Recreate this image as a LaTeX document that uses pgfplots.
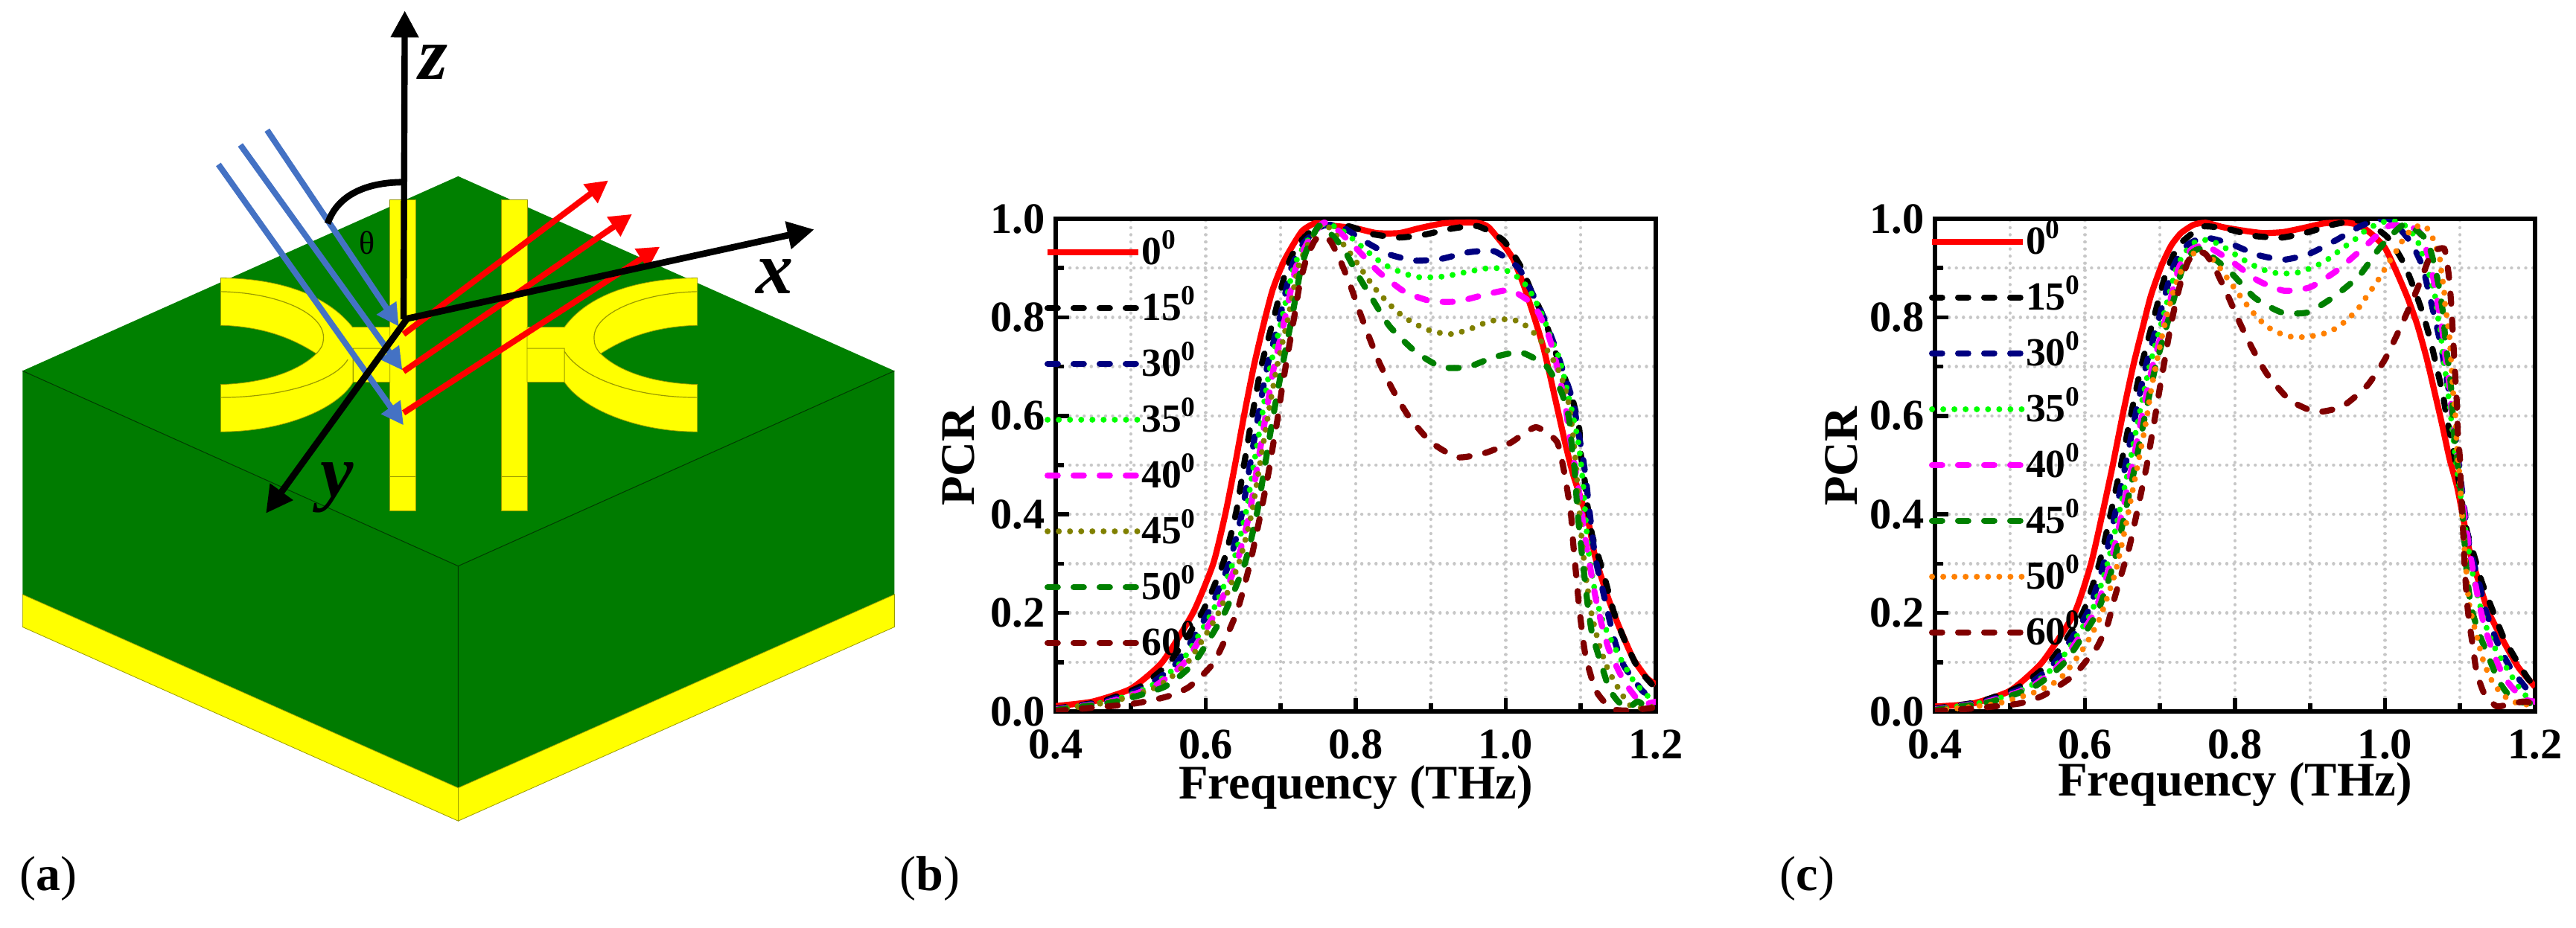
\documentclass[border=0pt]{standalone}
\usepackage{fontspec}
\setmainfont{Liberation Serif}
\usepackage{pgfplots}
\pgfplotsset{compat=1.18}
\usetikzlibrary{arrows.meta}
\definecolor{cnavy}{HTML}{000080}
\definecolor{clime}{HTML}{00FF00}
\definecolor{cmag}{HTML}{FF00FF}
\definecolor{colive}{HTML}{808000}
\definecolor{cgreen}{HTML}{008000}
\definecolor{cmaroon}{HTML}{800000}
\definecolor{corange}{HTML}{FF8000}
\definecolor{cblue}{HTML}{4472C4}
\definecolor{cred}{HTML}{FF0000}
\definecolor{sgreen}{HTML}{008000}
\definecolor{syellow}{HTML}{FFFF00}
\definecolor{sedge}{HTML}{9A9A00}
\tikzset{
  xl/.style={font=\fontsize{16.2}{17}\selectfont\bfseries,anchor=base,inner sep=0pt},
  yl/.style={font=\fontsize{16.2}{17}\selectfont\bfseries,rotate=90,anchor=center,inner sep=0pt},
}
\pgfplotsset{
  dsh/.style={line width=2.05pt,line cap=round,dash pattern=on 3.4pt off 5.35pt},
  dot/.style={line width=2pt,line cap=round,dash pattern=on 0.01pt off 3.75pt},
  pcr/.style={
    scale only axis,width=201.5pt,height=165.5pt,
    xmin=0.4,xmax=1.2,ymin=0,ymax=1,
    xtick={0.4,0.6,...,1.2},ytick={0,0.2,...,1},
    minor tick num=1,tick pos=left,
    major tick length=4.5pt,minor tick length=2.7pt,
    grid=both,
    major grid style={line width=1.1pt,line cap=round,color=black!22,dash pattern=on 0.01pt off 2.38pt},
    minor grid style={line width=1.1pt,line cap=round,color=black!22,dash pattern=on 0.01pt off 2.38pt},
    axis line style={line width=1.4pt},
    every tick/.style={line width=1.4pt,black},
    /pgf/number format/.cd,assume math mode=true,fixed,fixed zerofill,precision=1,/pgfplots/.cd,
    tick label style={font=\fontsize{14.6}{15}\selectfont\bfseries,inner sep=0pt},
    xticklabel style={yshift=-5.9pt},
    yticklabel style={xshift=-3.5pt},
    legend cell align=left,
    legend image code/.code={\draw[##1] (0pt,1.45pt) -- (30.5pt,1.45pt);},
    legend style={draw=none,fill=none,inner sep=0pt,outer sep=0pt,
      font=\fontsize{13.4}{14}\selectfont\bfseries,
      nodes={inner sep=0pt,outer sep=0pt,text height=12pt,text depth=6.75pt},
      row sep=0pt,/tikz/column 2/.style={column sep=3.2pt}},
    every axis plot/.append style={smooth,tension=0.35},
    xlabel={Frequency (THz)},ylabel={PCR},
  },
}
\begin{document}
\begin{tikzpicture}
\useasboundingbox (0,0) rectangle (865pt,311.5pt);

% panel a, coordinates taken from the figure
\begin{scope}[shift={(0pt,311.5pt)},x=0.1993pt,y=-0.1987pt]
\fill[sgreen] (772,298) -- (1507,627) -- (772,957) -- (38,627) -- cycle;
\fill[sgreen!96!black] (38,627) -- (772,957) -- (772,1332) -- (38,1005) -- cycle;
\fill[sgreen!96!black] (772,957) -- (1507,627) -- (1507,1005) -- (772,1332) -- cycle;
\draw[black!55!sgreen,line width=0.25pt] (38,627) -- (772,957) -- (1507,627) (772,957) -- (772,1332);
\fill[syellow,draw=sedge,line width=0.2pt] (38,1005) -- (772,1332) -- (772,1388) -- (38,1060) -- cycle;
\fill[syellow,draw=sedge,line width=0.2pt] (772,1332) -- (1507,1005) -- (1507,1060) -- (772,1388) -- cycle;
% strips
\fill[syellow,draw=sedge,line width=0.2pt] (657,338) rectangle (701,863);
\fill[syellow,draw=sedge,line width=0.2pt] (845,338) rectangle (888,863);
\draw[sedge,line width=0.3pt] (657,806) -- (701,806) (845,806) -- (888,806);
% left C and stub
\fill[syellow,draw=sedge,line width=0.2pt] (372,470) .. controls (440,470) and (540,485) .. (594,553) -- (657,553) -- (657,646) -- (595,646)
  .. controls (570,690) and (480,730) .. (372,730) -- (372,650) .. controls (440,648) and (500,630) .. (533,598)
  .. controls (490,570) and (440,552) .. (372,550) -- cycle;
\draw[sedge,line width=0.3pt] (372,493) .. controls (470,495) and (545,530) .. (545,570) .. controls (545,585) and (540,590) .. (533,598)
  (372,672) .. controls (460,672) and (560,650) .. (586,608) (594,589) -- (657,589) (595,589) -- (595,646);
% right C and stub
\fill[syellow,draw=sedge,line width=0.2pt] (1175,470) .. controls (1105,470) and (1000,485) .. (951,553) -- (888,553) -- (888,646) -- (951,646)
  .. controls (980,690) and (1070,730) .. (1175,730) -- (1175,650) .. controls (1105,648) and (1045,630) .. (1012,598)
  .. controls (1055,570) and (1105,552) .. (1175,550) -- cycle;
\draw[sedge,line width=0.3pt] (1175,493) .. controls (1080,495) and (1001,530) .. (1001,570) .. controls (1001,585) and (1005,590) .. (1012,598)
  (951,594) .. controls (980,640) and (1070,672) .. (1175,672) (888,589) -- (951,589) -- (951,646);
% beams
\draw[cblue,line width=2pt,-{Stealth[length=7.5pt,width=7.5pt,inset=0pt]}] (450,220) -- (672,552);
\draw[cblue,line width=2pt,-{Stealth[length=7.5pt,width=7.5pt,inset=0pt]}] (405,245) -- (678,626);
\draw[cblue,line width=2pt,-{Stealth[length=7.5pt,width=7.5pt,inset=0pt]}] (368,278) -- (680,719);
\draw[cred,line width=2pt,-{Stealth[length=7.5pt,width=7.5pt,inset=0pt]}] (680,565) -- (1025,305);
\draw[cred,line width=2pt,-{Stealth[length=7.5pt,width=7.5pt,inset=0pt]}] (680,628) -- (1065,362);
\draw[cred,line width=2pt,-{Stealth[length=7.5pt,width=7.5pt,inset=0pt]}] (680,698) -- (1112,417);
% axes of the sketch
\draw[black,line width=2.1pt,-{Stealth[length=9pt,width=9pt,inset=0pt]}] (680,540) -- (682,18);
\draw[black,line width=2.2pt,-{Stealth[length=9pt,width=9pt,inset=0pt]}] (680,540) -- (1372,388);
\draw[black,line width=2.2pt,-{Stealth[length=9pt,width=9pt,inset=0pt]}] (685,540) -- (448,868);
\draw[black,line width=2.2pt] (552,378) .. controls (570,325) and (625,308) .. (680,308);
\node[font=\fontsize{11}{12}\selectfont] at (618,410) {θ};
\node[font=\fontsize{25}{26}\selectfont\bfseries\itshape] at (730,105) {z};
\node[font=\fontsize{25}{26}\selectfont\bfseries\itshape] at (1305,467) {x};
\node[font=\fontsize{25}{26}\selectfont\bfseries\itshape] at (568,825) {y};
\end{scope}

\node[font=\fontsize{16.5}{18}\selectfont,anchor=base west,inner sep=0pt] at (6.5pt,12.5pt) {(\textbf{a})};
\node[font=\fontsize{16.5}{18}\selectfont,anchor=base west,inner sep=0pt] at (302pt,12.5pt) {(\textbf{b})};
\node[font=\fontsize{16.5}{18}\selectfont,anchor=base west,inner sep=0pt] at (597.5pt,12.5pt) {(\textbf{c})};

% panel b
\begin{axis}[pcr,at={(354.5pt,72.5pt)},anchor=south west,
  every axis x label/.style={at={(axis description cs:0.5,-0.178)},xl},
  every axis y label/.style={at={(axis description cs:-0.1625,0.518)},yl},
  legend style={at={(axis description cs:-0.0186,0.98)},anchor=north west}]
\addplot[cred,line width=2.05pt] coordinates {(0.4,0.011)(0.449,0.02)(0.5,0.046)(0.542,0.1)(0.583,0.2)(0.61,0.3)(0.626,0.4)(0.639,0.5)(0.651,0.6)(0.664,0.7)(0.677,0.785)(0.689,0.855)(0.703,0.91)(0.716,0.946)(0.729,0.976)(0.746,0.991)(0.769,0.986)(0.799,0.981)(0.828,0.971)(0.858,0.971)(0.885,0.981)(0.918,0.991)(0.961,0.992)(0.977,0.983)(1.0,0.941)(1.011,0.915)(1.024,0.865)(1.037,0.805)(1.05,0.74)(1.06,0.675)(1.07,0.607)(1.08,0.54)(1.09,0.48)(1.11,0.385)(1.119,0.315)(1.135,0.237)(1.15,0.176)(1.17,0.107)(1.188,0.068)(1.2,0.055)};
\addlegendentry{0\textsuperscript{0}}
\addplot[black,dsh] coordinates {(0.4,0.006)(0.46,0.02)(0.512,0.05)(0.552,0.1)(0.595,0.2)(0.623,0.3)(0.64,0.4)(0.651,0.5)(0.662,0.6)(0.674,0.7)(0.691,0.8)(0.708,0.9)(0.724,0.95)(0.75,0.985)(0.79,0.985)(0.822,0.969)(0.858,0.962)(0.892,0.968)(0.928,0.98)(0.963,0.985)(0.997,0.956)(1.02,0.903)(1.035,0.85)(1.052,0.795)(1.064,0.739)(1.077,0.684)(1.09,0.628)(1.098,0.573)(1.1,0.523)(1.105,0.472)(1.108,0.428)(1.115,0.359)(1.125,0.307)(1.134,0.259)(1.144,0.202)(1.157,0.15)(1.176,0.089)(1.195,0.055)(1.2,0.05)};
\addlegendentry{15\textsuperscript{0}}
\addplot[cnavy,dsh] coordinates {(0.4,0.005)(0.465,0.02)(0.52,0.05)(0.562,0.1)(0.603,0.2)(0.631,0.3)(0.648,0.4)(0.659,0.5)(0.67,0.6)(0.682,0.7)(0.699,0.8)(0.714,0.9)(0.73,0.95)(0.755,0.985)(0.779,0.986)(0.81,0.956)(0.844,0.928)(0.88,0.915)(0.915,0.919)(0.95,0.932)(0.985,0.934)(1.017,0.9)(1.035,0.85)(1.052,0.795)(1.066,0.739)(1.078,0.684)(1.09,0.628)(1.096,0.573)(1.102,0.523)(1.107,0.472)(1.11,0.428)(1.119,0.315)(1.128,0.255)(1.144,0.15)(1.157,0.094)(1.182,0.042)(1.195,0.029)(1.2,0.025)};
\addlegendentry{30\textsuperscript{0}}
\addplot[clime,dot] coordinates {(0.4,0.004)(0.47,0.02)(0.525,0.05)(0.567,0.1)(0.608,0.2)(0.636,0.3)(0.653,0.4)(0.664,0.5)(0.675,0.6)(0.686,0.7)(0.702,0.8)(0.717,0.9)(0.733,0.95)(0.758,0.99)(0.783,0.975)(0.813,0.937)(0.828,0.918)(0.843,0.903)(0.858,0.893)(0.873,0.885)(0.888,0.881)(0.918,0.883)(0.948,0.892)(0.977,0.9)(0.993,0.899)(1.008,0.89)(1.023,0.872)(1.034,0.849)(1.049,0.804)(1.06,0.759)(1.072,0.714)(1.083,0.644)(1.09,0.598)(1.096,0.553)(1.1,0.508)(1.103,0.462)(1.11,0.33)(1.12,0.235)(1.131,0.176)(1.15,0.116)(1.17,0.063)(1.188,0.033)(1.2,0.02)};
\addlegendentry{35\textsuperscript{0}}
\addplot[cmag,dsh] coordinates {(0.4,0.004)(0.472,0.02)(0.53,0.05)(0.572,0.1)(0.613,0.2)(0.641,0.3)(0.658,0.4)(0.669,0.5)(0.68,0.6)(0.691,0.7)(0.706,0.8)(0.72,0.9)(0.735,0.95)(0.755,0.99)(0.767,0.989)(0.797,0.946)(0.83,0.893)(0.865,0.852)(0.9,0.833)(0.935,0.832)(0.97,0.845)(1.006,0.855)(1.037,0.825)(1.055,0.772)(1.065,0.722)(1.073,0.669)(1.08,0.616)(1.085,0.56)(1.091,0.508)(1.097,0.452)(1.105,0.36)(1.119,0.237)(1.128,0.176)(1.138,0.124)(1.157,0.063)(1.176,0.024)(1.188,0.016)(1.2,0.02)};
\addlegendentry{40\textsuperscript{0}}
\addplot[colive,dot] coordinates {(0.4,0.003)(0.475,0.02)(0.535,0.05)(0.576,0.1)(0.617,0.2)(0.644,0.3)(0.661,0.4)(0.672,0.5)(0.683,0.6)(0.695,0.7)(0.71,0.8)(0.723,0.9)(0.737,0.95)(0.756,0.99)(0.771,0.972)(0.794,0.927)(0.815,0.881)(0.826,0.858)(0.839,0.836)(0.854,0.813)(0.869,0.796)(0.884,0.783)(0.899,0.773)(0.914,0.768)(0.929,0.766)(0.944,0.772)(0.959,0.78)(0.974,0.79)(0.989,0.795)(1.004,0.796)(1.019,0.791)(1.034,0.774)(1.047,0.752)(1.057,0.729)(1.066,0.706)(1.073,0.684)(1.078,0.661)(1.082,0.638)(1.085,0.616)(1.089,0.57)(1.093,0.51)(1.097,0.43)(1.101,0.355)(1.107,0.272)(1.115,0.194)(1.125,0.133)(1.135,0.09)(1.144,0.063)(1.163,0.016)(1.176,0.007)(1.2,0.01)};
\addlegendentry{45\textsuperscript{0}}
\addplot[cgreen,dsh] coordinates {(0.4,0.003)(0.48,0.02)(0.545,0.05)(0.585,0.1)(0.625,0.2)(0.652,0.3)(0.668,0.4)(0.679,0.5)(0.69,0.6)(0.702,0.7)(0.715,0.8)(0.727,0.9)(0.738,0.95)(0.753,0.987)(0.782,0.943)(0.802,0.888)(0.823,0.835)(0.845,0.782)(0.879,0.731)(0.914,0.699)(0.949,0.699)(0.984,0.719)(1.02,0.729)(1.054,0.701)(1.074,0.649)(1.084,0.598)(1.088,0.54)(1.092,0.487)(1.095,0.42)(1.098,0.37)(1.103,0.3)(1.109,0.22)(1.115,0.159)(1.125,0.107)(1.138,0.046)(1.15,0.02)(1.163,0.007)(1.176,0.02)(1.19,0.007)(1.2,0.01)};
\addlegendentry{50\textsuperscript{0}}
\addplot[cmaroon,dsh] coordinates {(0.4,0.001)(0.5,0.015)(0.548,0.03)(0.578,0.05)(0.611,0.1)(0.641,0.2)(0.659,0.3)(0.673,0.4)(0.684,0.487)(0.69,0.543)(0.696,0.596)(0.701,0.649)(0.707,0.704)(0.713,0.757)(0.719,0.81)(0.725,0.865)(0.734,0.918)(0.745,0.955)(0.754,0.966)(0.766,0.955)(0.778,0.92)(0.792,0.868)(0.805,0.812)(0.818,0.759)(0.832,0.706)(0.85,0.651)(0.871,0.598)(0.9,0.547)(0.935,0.516)(0.971,0.524)(1.006,0.545)(1.04,0.577)(1.068,0.548)(1.077,0.493)(1.082,0.45)(1.087,0.4)(1.09,0.34)(1.094,0.275)(1.098,0.21)(1.106,0.116)(1.119,0.046)(1.131,0.02)(1.144,0.004)(1.163,0.002)(1.2,0.008)};
\addlegendentry{60\textsuperscript{0}}
\end{axis}

% panel c
\begin{axis}[pcr,at={(649.75pt,72.5pt)},anchor=south west,
  every axis x label/.style={at={(axis description cs:0.5,-0.171)},xl},
  every axis y label/.style={at={(axis description cs:-0.156,0.518)},yl},
  legend style={at={(axis description cs:-0.01,1.0015)},anchor=north west}]
\addplot[cred,line width=2.05pt] coordinates {(0.4,0.01)(0.45,0.016)(0.5,0.042)(0.543,0.1)(0.586,0.2)(0.608,0.3)(0.623,0.4)(0.637,0.5)(0.65,0.6)(0.664,0.7)(0.677,0.78)(0.688,0.845)(0.702,0.905)(0.715,0.946)(0.728,0.971)(0.745,0.988)(0.761,0.992)(0.784,0.983)(0.811,0.976)(0.837,0.971)(0.864,0.973)(0.89,0.981)(0.92,0.991)(0.95,0.992)(0.967,0.986)(0.983,0.968)(1.0,0.941)(1.016,0.89)(1.03,0.84)(1.043,0.785)(1.056,0.714)(1.066,0.649)(1.076,0.583)(1.086,0.513)(1.096,0.457)(1.104,0.395)(1.112,0.33)(1.125,0.263)(1.138,0.202)(1.158,0.142)(1.178,0.089)(1.2,0.05)};
\addlegendentry{0\textsuperscript{0}}
\addplot[black,dsh] coordinates {(0.4,0.006)(0.46,0.02)(0.512,0.05)(0.553,0.1)(0.597,0.2)(0.619,0.3)(0.634,0.4)(0.648,0.5)(0.661,0.6)(0.675,0.7)(0.692,0.8)(0.708,0.89)(0.725,0.946)(0.757,0.984)(0.793,0.978)(0.827,0.965)(0.863,0.962)(0.898,0.973)(0.933,0.989)(0.97,0.996)(1.003,0.963)(1.025,0.91)(1.039,0.857)(1.051,0.805)(1.061,0.75)(1.069,0.698)(1.077,0.644)(1.083,0.591)(1.09,0.54)(1.097,0.482)(1.103,0.42)(1.109,0.367)(1.119,0.315)(1.129,0.263)(1.142,0.211)(1.158,0.15)(1.174,0.107)(1.19,0.068)(1.2,0.05)};
\addlegendentry{15\textsuperscript{0}}
\addplot[cnavy,dsh] coordinates {(0.4,0.005)(0.465,0.02)(0.52,0.05)(0.56,0.1)(0.603,0.2)(0.625,0.3)(0.64,0.4)(0.654,0.5)(0.667,0.6)(0.681,0.7)(0.699,0.8)(0.717,0.9)(0.735,0.945)(0.759,0.962)(0.793,0.95)(0.829,0.927)(0.865,0.917)(0.899,0.929)(0.934,0.956)(0.97,0.987)(1.005,1.0)(1.034,0.953)(1.05,0.903)(1.059,0.846)(1.067,0.795)(1.075,0.739)(1.081,0.686)(1.087,0.633)(1.092,0.578)(1.096,0.533)(1.102,0.457)(1.112,0.341)(1.125,0.263)(1.135,0.202)(1.148,0.146)(1.165,0.094)(1.184,0.055)(1.197,0.033)(1.2,0.03)};
\addlegendentry{30\textsuperscript{0}}
\addplot[clime,dot] coordinates {(0.4,0.004)(0.47,0.02)(0.525,0.05)(0.565,0.1)(0.608,0.2)(0.63,0.3)(0.645,0.4)(0.659,0.5)(0.672,0.6)(0.686,0.7)(0.704,0.8)(0.722,0.9)(0.735,0.935)(0.748,0.954)(0.764,0.957)(0.779,0.948)(0.794,0.934)(0.809,0.919)(0.824,0.906)(0.839,0.896)(0.854,0.89)(0.869,0.889)(0.884,0.891)(0.899,0.899)(0.914,0.909)(0.928,0.922)(0.943,0.94)(0.959,0.957)(0.973,0.975)(0.989,0.989)(1.005,0.996)(1.02,0.993)(1.033,0.978)(1.043,0.956)(1.049,0.932)(1.055,0.909)(1.059,0.887)(1.063,0.864)(1.067,0.841)(1.071,0.796)(1.074,0.773)(1.077,0.727)(1.083,0.66)(1.089,0.583)(1.094,0.515)(1.099,0.457)(1.109,0.35)(1.119,0.263)(1.132,0.185)(1.145,0.133)(1.165,0.081)(1.184,0.037)(1.2,0.02)};
\addlegendentry{35\textsuperscript{0}}
\addplot[cmag,dsh] coordinates {(0.4,0.004)(0.47,0.02)(0.528,0.05)(0.569,0.1)(0.612,0.2)(0.634,0.3)(0.649,0.4)(0.663,0.5)(0.676,0.6)(0.69,0.7)(0.708,0.8)(0.725,0.9)(0.74,0.935)(0.76,0.946)(0.794,0.915)(0.83,0.875)(0.865,0.854)(0.9,0.861)(0.935,0.894)(0.972,0.942)(1.006,0.986)(1.043,0.978)(1.056,0.933)(1.065,0.875)(1.071,0.822)(1.077,0.767)(1.081,0.714)(1.086,0.661)(1.089,0.608)(1.093,0.553)(1.098,0.495)(1.104,0.42)(1.112,0.333)(1.122,0.246)(1.132,0.176)(1.145,0.116)(1.158,0.072)(1.171,0.046)(1.187,0.024)(1.2,0.02)};
\addlegendentry{40\textsuperscript{0}}
\addplot[cgreen,dsh] coordinates {(0.4,0.003)(0.475,0.02)(0.532,0.05)(0.573,0.1)(0.616,0.2)(0.638,0.3)(0.653,0.4)(0.667,0.5)(0.68,0.6)(0.694,0.7)(0.712,0.8)(0.729,0.895)(0.742,0.93)(0.756,0.938)(0.793,0.893)(0.826,0.84)(0.862,0.81)(0.897,0.81)(0.932,0.842)(0.966,0.885)(0.993,0.941)(1.026,0.989)(1.055,0.958)(1.066,0.905)(1.073,0.853)(1.078,0.8)(1.081,0.744)(1.086,0.691)(1.089,0.638)(1.091,0.583)(1.094,0.533)(1.099,0.477)(1.103,0.41)(1.109,0.28)(1.115,0.211)(1.125,0.16)(1.138,0.111)(1.151,0.063)(1.165,0.033)(1.178,0.02)(1.2,0.016)};
\addlegendentry{45\textsuperscript{0}}
\addplot[corange,dot] coordinates {(0.4,0.002)(0.48,0.015)(0.535,0.04)(0.564,0.063)(0.58,0.09)(0.6,0.133)(0.62,0.19)(0.64,0.28)(0.652,0.36)(0.665,0.46)(0.679,0.568)(0.684,0.613)(0.689,0.66)(0.695,0.705)(0.701,0.75)(0.708,0.796)(0.716,0.842)(0.726,0.888)(0.745,0.93)(0.761,0.93)(0.775,0.91)(0.786,0.887)(0.797,0.864)(0.808,0.841)(0.819,0.819)(0.832,0.796)(0.847,0.777)(0.862,0.766)(0.877,0.76)(0.892,0.76)(0.907,0.763)(0.923,0.769)(0.938,0.781)(0.953,0.8)(0.967,0.823)(0.977,0.846)(0.988,0.869)(0.997,0.891)(1.006,0.914)(1.016,0.937)(1.025,0.96)(1.038,0.982)(1.053,0.986)(1.063,0.963)(1.068,0.942)(1.073,0.92)(1.075,0.895)(1.077,0.873)(1.079,0.85)(1.08,0.827)(1.082,0.805)(1.086,0.759)(1.089,0.69)(1.091,0.644)(1.094,0.598)(1.096,0.53)(1.099,0.485)(1.101,0.437)(1.106,0.33)(1.112,0.22)(1.122,0.155)(1.132,0.098)(1.145,0.055)(1.161,0.029)(1.178,0.016)(1.2,0.013)};
\addlegendentry{50\textsuperscript{0}}
\addplot[cmaroon,dsh] coordinates {(0.4,0.001)(0.45,0.006)(0.512,0.016)(0.545,0.033)(0.584,0.072)(0.604,0.107)(0.617,0.133)(0.63,0.176)(0.639,0.228)(0.649,0.281)(0.659,0.333)(0.669,0.402)(0.682,0.497)(0.688,0.55)(0.694,0.603)(0.7,0.659)(0.706,0.711)(0.712,0.764)(0.719,0.817)(0.728,0.873)(0.738,0.915)(0.75,0.933)(0.761,0.928)(0.773,0.9)(0.791,0.842)(0.806,0.79)(0.823,0.737)(0.843,0.684)(0.873,0.632)(0.908,0.608)(0.943,0.619)(0.976,0.661)(1.0,0.715)(1.017,0.768)(1.033,0.822)(1.048,0.876)(1.062,0.93)(1.079,0.939)(1.085,0.885)(1.088,0.832)(1.09,0.779)(1.092,0.724)(1.094,0.671)(1.096,0.618)(1.097,0.565)(1.1,0.51)(1.101,0.457)(1.104,0.37)(1.106,0.3)(1.109,0.228)(1.112,0.185)(1.117,0.133)(1.122,0.081)(1.132,0.037)(1.148,0.011)(1.165,0.014)(1.184,0.02)(1.2,0.017)};
\addlegendentry{60\textsuperscript{0}}
\end{axis}
\end{tikzpicture}
\end{document}
